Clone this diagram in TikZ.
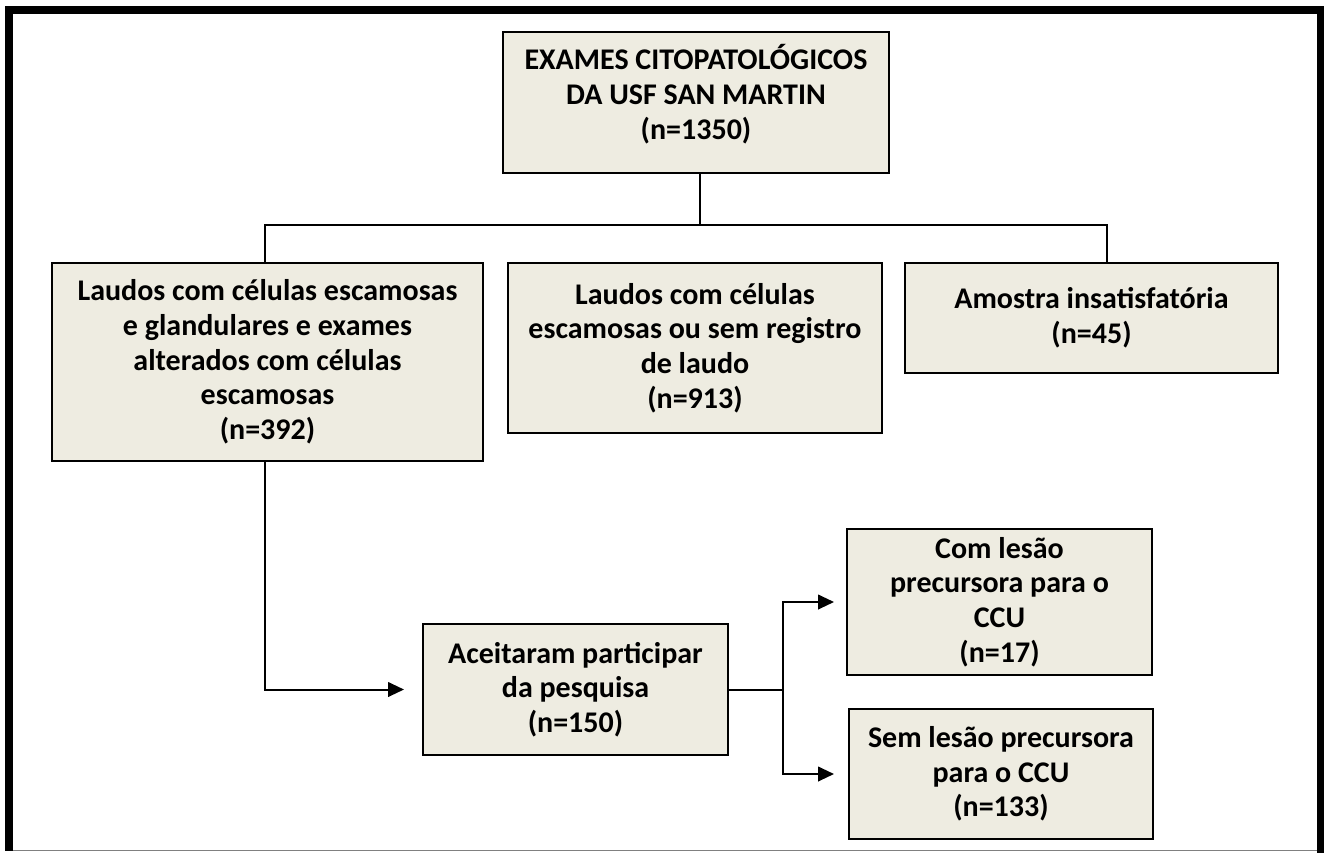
\documentclass[tikz,border=0pt]{standalone}
\usepackage{fontspec}
\setmainfont{Carlito}
\usetikzlibrary{arrows.meta}
\definecolor{boxfill}{HTML}{EEECE1}
\begin{document}
\begin{tikzpicture}[x=0.75pt,y=-0.75pt,
  box/.style={draw=black, fill=boxfill, line width=1.5pt, inner sep=0pt, align=center,
    font=\bfseries\fontsize{22.5}{26}\selectfont},
  bx/.style 2 args={minimum width=#1*0.75pt, minimum height=#2*0.75pt},
  conn/.style={line width=1.5pt, black},
  arr/.style={conn, -{Triangle[length=12pt, width=11pt]}}]
\useasboundingbox (0,0) rectangle (1324,853);
% frame
\fill[black] (5,6) rectangle (13,851);
\fill[black] (5,6) rectangle (1324,14);
\fill[black] (1317,6) rectangle (1324,853);
\draw[gray, line width=0.75pt] (13,850) -- (1317,850);
% boxes
\node[box, bx={386}{141}, text depth=16pt] (top) at (696,102.5) {EXAMES CITOPATOLÓGICOS\\DA USF SAN MARTIN\\(n=1350)};
\node[box, bx={431}{198}] (left) at (267.5,362) {Laudos com células escamosas\\e glandulares e exames\\alterados com células\\escamosas\\(n=392)};
\node[box, bx={374}{170}] (mid) at (695,348) {Laudos com células\\escamosas ou sem registro\\de laudo\\(n=913)};
\node[box, bx={373}{110}] (right) at (1091.5,318) {Amostra insatisfatória\\(n=45)};
\node[box, bx={305}{131}] (acc) at (575.5,689.5) {Aceitaram participar\\da pesquisa\\(n=150)};
\node[box, bx={305}{146}] (com) at (999.5,602) {Com lesão\\precursora para o\\CCU\\(n=17)};
\node[box, bx={304}{130}] (sem) at (1001,774) {Sem lesão precursora\\para o CCU\\(n=133)};
% connectors
\coordinate (bl) at (265,225);
\coordinate (br) at (1107,225);
\coordinate (bx) at (783,689.5);
\draw[conn] ([xshift=3pt]top.south) -- ([xshift=3pt]top.south |- bl);
\draw[conn] (left.north -| bl) -- (bl) -- (br) -- (right.north -| br);
\draw[arr, shorten >=13.5pt] (left.south -| bl) |- (acc.west);
\draw[conn] (acc.east) -- (bx);
\draw[arr, shorten >=9pt] (bx) |- (com.west);
\draw[arr, shorten >=10.5pt] (bx) |- (sem.west);
\end{tikzpicture}
\end{document}
